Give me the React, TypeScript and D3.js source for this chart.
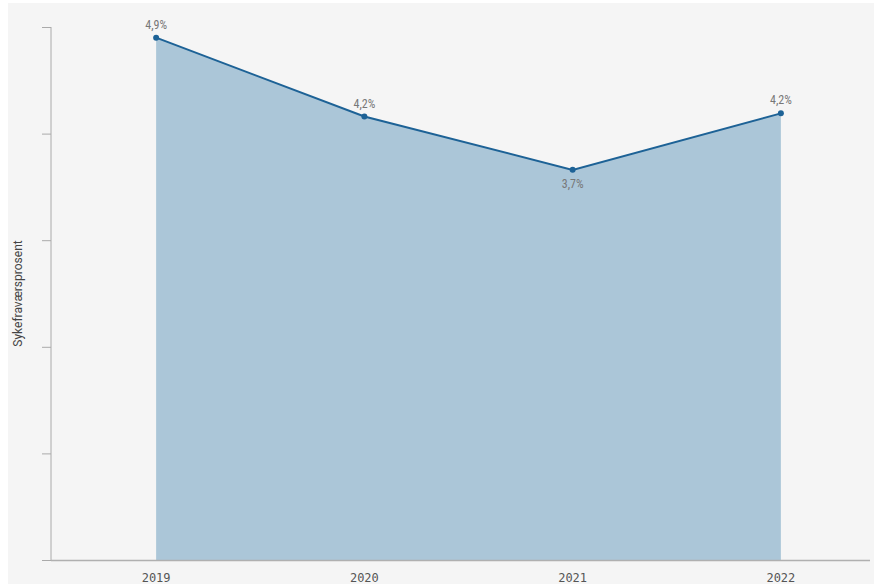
import React, { useRef, useEffect } from 'react';
import * as d3 from 'd3';

const years = ['2019', '2020', '2021', '2022'];
const sickLeave = [4.9, 4.16, 3.66, 4.19];
const valueLabels = ['4,9%', '4,2%', '3,7%', '4,2%'];
const yTicks = [0, 1, 2, 3, 4, 5];

const width = 866;
const height = 581;
const margins = { left: 43, top: 24, bottom: 24 };

const App: React.FC = () => {
  const ref = useRef<SVGSVGElement>(null);

  useEffect(() => {
    if (!ref.current) return;
    const svg = d3.select(ref.current);
    svg.selectAll('*').remove();

    const x = d3.scalePoint().domain(years).range([44, 877]).padding(0.5);
    const y = d3
      .scaleLinear()
      .domain([0, 5])
      .range([height - margins.bottom, margins.top]);

    svg.append('rect').attr('width', width).attr('height', height).attr('fill', '#f5f5f5');

    const data = years.map((d, i) => ({ year: d, value: sickLeave[i], label: valueLabels[i] }));

    // area
    const area = d3
      .area<any>()
      .x((d) => x(d.year)!)
      .y0(y(0))
      .y1((d) => y(d.value));
    svg.append('path').datum(data).attr('d', area).attr('fill', '#abc6d8');

    // y axis
    const yAxis = svg
      .append('g')
      .attr('transform', `translate(${margins.left},0)`)
      .call(d3.axisLeft(y).tickValues(yTicks).tickSize(9).tickFormat(() => ''));
    yAxis.select('.domain').attr('stroke', '#aaa').attr('d', `M0,${y(5)}V${y(0)}`);
    yAxis.selectAll('.tick line').attr('stroke', '#aaa');

    // x axis
    svg
      .append('line')
      .attr('x1', margins.left)
      .attr('x2', width - 4)
      .attr('y1', y(0) + 0.5)
      .attr('y2', y(0) + 0.5)
      .attr('stroke', '#b0b0b0')
      .attr('stroke-width', 1.5);
    svg
      .selectAll('.x-label')
      .data(years)
      .join('text')
      .attr('class', 'x-label')
      .attr('x', (d) => x(d)!)
      .attr('y', y(0) + 22)
      .attr('text-anchor', 'middle')
      .attr('font-family', 'DejaVu Sans Mono, monospace')
      .attr('font-size', 12)
      .attr('fill', '#555')
      .text((d) => d);

    // y title
    svg
      .append('text')
      .attr('transform', `translate(14,${(y(0) + y(5)) / 2}) rotate(-90)`)
      .attr('text-anchor', 'middle')
      .attr('font-family', 'Roboto, sans-serif')
      .attr('font-size', 12)
      .attr('fill', '#444')
      .text('Sykefraværsprosent');

    // line
    const line = d3
      .line<any>()
      .x((d) => x(d.year)!)
      .y((d) => y(d.value));
    svg
      .append('path')
      .datum(data)
      .attr('d', line)
      .attr('fill', 'none')
      .attr('stroke', '#1d6296')
      .attr('stroke-width', 2);

    svg
      .selectAll('.dot')
      .data(data)
      .join('circle')
      .attr('class', 'dot')
      .attr('cx', (d) => x(d.year)!)
      .attr('cy', (d) => y(d.value))
      .attr('r', 3)
      .attr('fill', '#1d6296');

    svg
      .selectAll('.val')
      .data(data)
      .join('text')
      .attr('class', 'val')
      .attr('x', (d) => x(d.year)!)
      .attr('y', (d, i) => (i === 2 ? y(d.value) + 18 : y(d.value) - 9))
      .attr('text-anchor', 'middle')
      .attr('font-family', 'Roboto Condensed, Roboto, sans-serif')
      .attr('font-size', 12)
      .attr('fill', '#777')
      .text((d) => d.label);
  }, []);

  return (
    <svg
      ref={ref}
      width={width}
      height={height}
      style={{ position: 'absolute', left: 8, top: 3 }}
    />
  );
};

export default App;
